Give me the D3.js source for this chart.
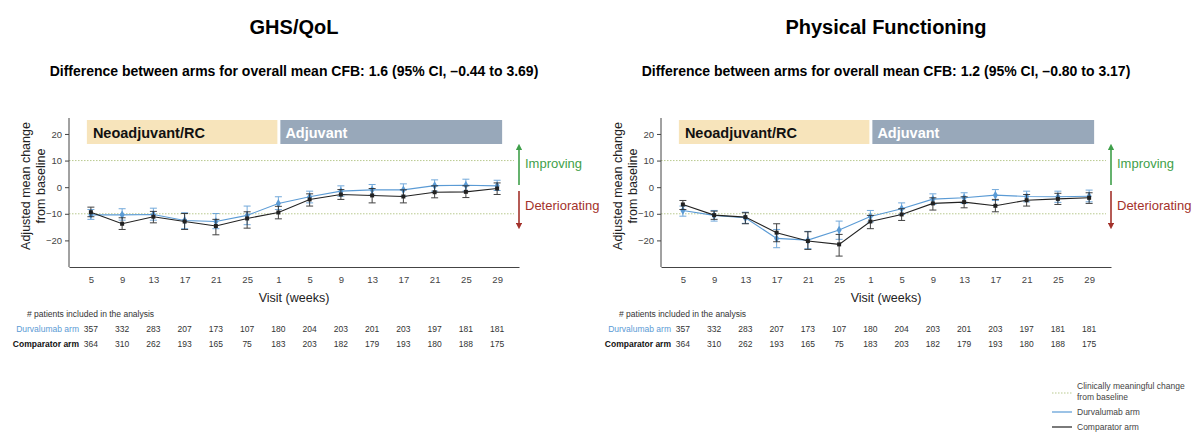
<!DOCTYPE html>
<html>
<head>
<meta charset="utf-8">
<script src="https://cdn.jsdelivr.net/npm/d3@7"></script>
<style>
  body { margin: 0; background: #fff; }
  svg { font-family: "Liberation Sans", Arial, sans-serif; }
  .tick text { fill: #444; font-size: 9.5px; }
  .tick line, .domain { stroke: #444; }
</style>
</head>
<body>
<svg width="1200" height="440"></svg>
<script>
// visits (weeks) and phase of each visit
const visitWeeks = [5, 9, 13, 17, 21, 25, 1, 5, 9, 13, 17, 21, 25, 29];
const visitPhase = ['N', 'N', 'N', 'N', 'N', 'N', 'A', 'A', 'A', 'A', 'A', 'A', 'A', 'A'];
const yTicks = [-20, -10, 0, 10, 20];
const mcidLines = [10, -10];

// patients included in the analysis
const durvN = [357, 332, 283, 207, 173, 107, 180, 204, 203, 201, 203, 197, 181, 181];
const compN = [364, 310, 262, 193, 165, 75, 183, 203, 182, 179, 193, 180, 188, 175];

// GHS/QoL
const ghsDurv = [-10.4, -10.4, -10.25, -12.5, -12.9, -10.6, -6.1, -3.6, -1.5, -1, -1, 0.6, 0.75, 0.5];
const ghsDurvLo = [-12.1, -12.4, -12.4, -15.6, -15.6, -14.1, -8.4, -5.9, -3.4, -3, -3.4, -1.5, -1.5, -1.25];
const ghsDurvHi = [-8.4, -8.1, -7.9, -9.6, -9.9, -7.1, -3.6, -1.5, 0.5, 1, 1.25, 2.75, 3, 2.6];
const ghsComp = [-9.4, -13.75, -11.1, -12.9, -14.6, -11.75, -9.5, -4.6, -2.75, -3.1, -3.5, -1.9, -1.75, -0.5];
const ghsCompLo = [-11.1, -15.9, -13.4, -15.9, -17.9, -15.4, -11.9, -7.1, -4.6, -5.9, -5.9, -4, -3.9, -2.75];
const ghsCompHi = [-7.5, -11.5, -9.1, -9.9, -12.1, -9.25, -7.2, -2.5, -0.9, -0.5, -1, 0.5, 0.5, 1.6];

// Physical functioning
const pfDurv = [-8.75, -10.6, -11.5, -19.25, -19.9, -16.1, -11, -8.1, -4.5, -4, -3, -3.5, -3.6, -3.4];
const pfDurvLo = [-10.9, -12.75, -13.6, -22.75, -23.1, -19.6, -13.1, -10.25, -6.5, -6.1, -5, -5.5, -5.7, -5.5];
const pfDurvHi = [-7.1, -8.75, -9.4, -15.9, -16.6, -12.75, -8.75, -5.9, -2.5, -2.1, -0.9, -1.5, -1.5, -1.1];
const pfComp = [-6.5, -10.5, -11.25, -17.1, -20.25, -21.5, -12.9, -10.25, -6.1, -5.6, -7, -4.9, -4.4, -4];
const pfCompLo = [-8.4, -12.1, -13.75, -20.5, -23.4, -25.9, -15.6, -12.5, -8.6, -7.75, -9.25, -7.1, -6.5, -6.1];
const pfCompHi = [-5, -9, -9.6, -13.75, -16.75, -17.75, -10.6, -8.1, -4, -3.6, -4.6, -2.75, -2.3, -2.1];

const blue = '#5b9bd5';
const black = '#222';
const green = '#3f9f4a';
const red = '#a3322b';
const mcidColor = '#b9c98f';

const svg = d3.select('svg');
const keys = visitWeeks.map((w, i) => visitPhase[i] + w);

function series(vals, lo, hi) {
  return vals.map((v, i) => ({ key: keys[i], v: v, lo: lo[i], hi: hi[i] }));
}

function drawPanel(ox, title, subtitle, durv, comp) {
  const g = svg.append('g');
  const x = d3.scalePoint().domain(keys).range([69 + ox, 519 + ox]).padding(0.7);
  const y = d3.scaleLinear().domain([-30, 26]).range([267, 118]);

  // titles
  g.append('text').attr('x', 294 + ox).attr('y', 34).attr('text-anchor', 'middle')
    .style('font-size', '20px').style('font-weight', 'bold').text(title);
  g.append('text').attr('x', 294 + ox).attr('y', 76).attr('text-anchor', 'middle')
    .style('font-size', '14px').style('font-weight', 'bold').text(subtitle);

  // phase bands
  const neoX0 = x(keys[0]) - 4, neoX1 = x(keys[6]) - 1;
  const adjX0 = x(keys[6]) + 2, adjX1 = x(keys[13]) + 5;
  g.append('rect').attr('x', neoX0).attr('y', 120).attr('width', neoX1 - neoX0).attr('height', 24).attr('fill', '#f7e4bb');
  g.append('rect').attr('x', adjX0).attr('y', 120).attr('width', adjX1 - adjX0).attr('height', 24).attr('fill', '#98a8ba');
  g.append('text').attr('x', neoX0 + 6).attr('y', 138).style('font-size', '14.5px').style('font-weight', 'bold')
    .attr('fill', '#111').text('Neoadjuvant/RC');
  g.append('text').attr('x', adjX0 + 5).attr('y', 138).style('font-size', '14.5px').style('font-weight', 'bold')
    .attr('fill', '#fff').text('Adjuvant');

  // clinically meaningful change lines
  g.selectAll('.mcid').data(mcidLines).enter().append('line')
    .attr('x1', 69 + ox).attr('x2', 514 + ox)
    .attr('y1', d => y(d)).attr('y2', d => y(d))
    .attr('stroke', mcidColor).attr('stroke-width', 1).attr('stroke-dasharray', '1.5,1.5');

  // axes
  const xAxis = d3.axisBottom(x).tickSizeOuter(0).tickSize(0).tickPadding(9).tickFormat((d, i) => visitWeeks[i]);
  g.append('g').attr('transform', 'translate(0,267)').call(xAxis)
    .call(a => a.selectAll('.tick text').attr('dy', '0.75em'));
  const yAxis = d3.axisLeft(y).tickValues(yTicks).tickSizeOuter(0).tickSize(4);
  g.append('g').attr('transform', `translate(${69 + ox},0)`).call(yAxis)
    .call(a => a.select('.domain').attr('d', `M0,${y.range()[1]}V${y.range()[0]}`));

  g.append('text').attr('x', 294 + ox).attr('y', 302).attr('text-anchor', 'middle')
    .style('font-size', '12.5px').attr('fill', '#222').text('Visit (weeks)');
  const yl = g.append('text').attr('transform', `translate(${30 + ox},186) rotate(-90)`)
    .attr('text-anchor', 'middle').style('font-size', '12.5px').attr('fill', '#222');
  yl.append('tspan').attr('x', 0).attr('dy', 0).text('Adjusted mean change');
  yl.append('tspan').attr('x', 0).attr('dy', 14.5).text('from baseline');

  // improving / deteriorating arrows
  const ax = 519 + ox;
  const defsId = 'p' + ox;
  const defs = g.append('defs');
  [['g', green], ['r', red]].forEach(([k, c]) => {
    defs.append('marker').attr('id', defsId + k).attr('viewBox', '0 0 10 10')
      .attr('refX', 5).attr('refY', 5).attr('markerWidth', 4).attr('markerHeight', 4)
      .attr('orient', 'auto').append('path').attr('d', 'M0,0L10,5L0,10z').attr('fill', c);
  });
  g.append('line').attr('x1', ax).attr('x2', ax).attr('y1', 185).attr('y2', 147)
    .attr('stroke', green).attr('stroke-width', 1.6).attr('marker-end', `url(#${defsId}g)`);
  g.append('line').attr('x1', ax).attr('x2', ax).attr('y1', 191).attr('y2', 226)
    .attr('stroke', red).attr('stroke-width', 1.6).attr('marker-end', `url(#${defsId}r)`);
  g.append('text').attr('x', ax + 6).attr('y', 168).style('font-size', '13px').attr('fill', green).text('Improving');
  g.append('text').attr('x', ax + 6).attr('y', 210).style('font-size', '13px').attr('fill', red).text('Deteriorating');

  // series
  const line = d3.line().x(d => x(d.key)).y(d => y(d.v));
  [[durv, blue, d3.symbolDiamond, 22], [comp, black, d3.symbolSquare, 16]].forEach(([data, c, sym, size]) => {
    const s = g.append('g');
    s.append('path').datum(data).attr('d', line).attr('fill', 'none').attr('stroke', c).attr('stroke-width', 1.1);
    const eb = s.selectAll('.eb').data(data).enter().append('g').attr('stroke', c).attr('stroke-width', 1).attr('opacity', 0.85);
    eb.append('line').attr('x1', d => x(d.key)).attr('x2', d => x(d.key)).attr('y1', d => y(d.lo)).attr('y2', d => y(d.hi));
    eb.append('line').attr('x1', d => x(d.key) - 3.5).attr('x2', d => x(d.key) + 3.5).attr('y1', d => y(d.lo)).attr('y2', d => y(d.lo));
    eb.append('line').attr('x1', d => x(d.key) - 3.5).attr('x2', d => x(d.key) + 3.5).attr('y1', d => y(d.hi)).attr('y2', d => y(d.hi));
    s.selectAll('.pt').data(data).enter().append('path')
      .attr('d', d3.symbol().type(sym).size(size))
      .attr('transform', d => `translate(${x(d.key)},${y(d.v)})`).attr('fill', c);
  });

  // patient table
  g.append('text').attr('x', 27 + ox).attr('y', 317).style('font-size', '8.5px').attr('fill', '#333')
    .text('# patients included in the analysis');
  const rows = [['Durvalumab arm', durvN, blue, 'normal', 332], ['Comparator arm', compN, '#111', 'bold', 347]];
  rows.forEach(([label, counts, c, fw, yy]) => {
    g.append('text').attr('x', 79 + ox).attr('y', yy).attr('text-anchor', 'end')
      .style('font-size', '8.5px').style('font-weight', fw).attr('fill', c).text(label);
    g.selectAll(null).data(counts).enter().append('text')
      .attr('x', (d, i) => x(keys[i])).attr('y', yy).attr('text-anchor', 'middle')
      .style('font-size', '8.5px').attr('fill', '#333').text(d => d);
  });
}

drawPanel(0, 'GHS/QoL', 'Difference between arms for overall mean CFB: 1.6 (95% CI, \u20130.44 to 3.69)',
  series(ghsDurv, ghsDurvLo, ghsDurvHi), series(ghsComp, ghsCompLo, ghsCompHi));
drawPanel(592, 'Physical Functioning', 'Difference between arms for overall mean CFB: 1.2 (95% CI, \u20130.80 to 3.17)',
  series(pfDurv, pfDurvLo, pfDurvHi), series(pfComp, pfCompLo, pfCompHi));

// legend
const legend = svg.append('g').style('font-size', '8.5px').attr('fill', '#444');
const legendItems = [
  { label: ['Clinically meaningful change', 'from baseline'], color: mcidColor, dash: '1.5,1.5', y: 393 },
  { label: ['Durvalumab arm'], color: blue, dash: null, y: 412 },
  { label: ['Comparator arm'], color: black, dash: null, y: 427 }
];
legendItems.forEach(it => {
  legend.append('line').attr('x1', 1052).attr('x2', 1072).attr('y1', it.y).attr('y2', it.y)
    .attr('stroke', it.color).attr('stroke-width', 1.2).attr('stroke-dasharray', it.dash);
  const t = legend.append('text').attr('x', 1077).attr('y', it.label.length > 1 ? it.y - 4 : it.y + 3);
  it.label.forEach((l, i) => t.append('tspan').attr('x', 1077).attr('dy', i ? 11 : 0).text(l));
});
</script>
</body>
</html>
